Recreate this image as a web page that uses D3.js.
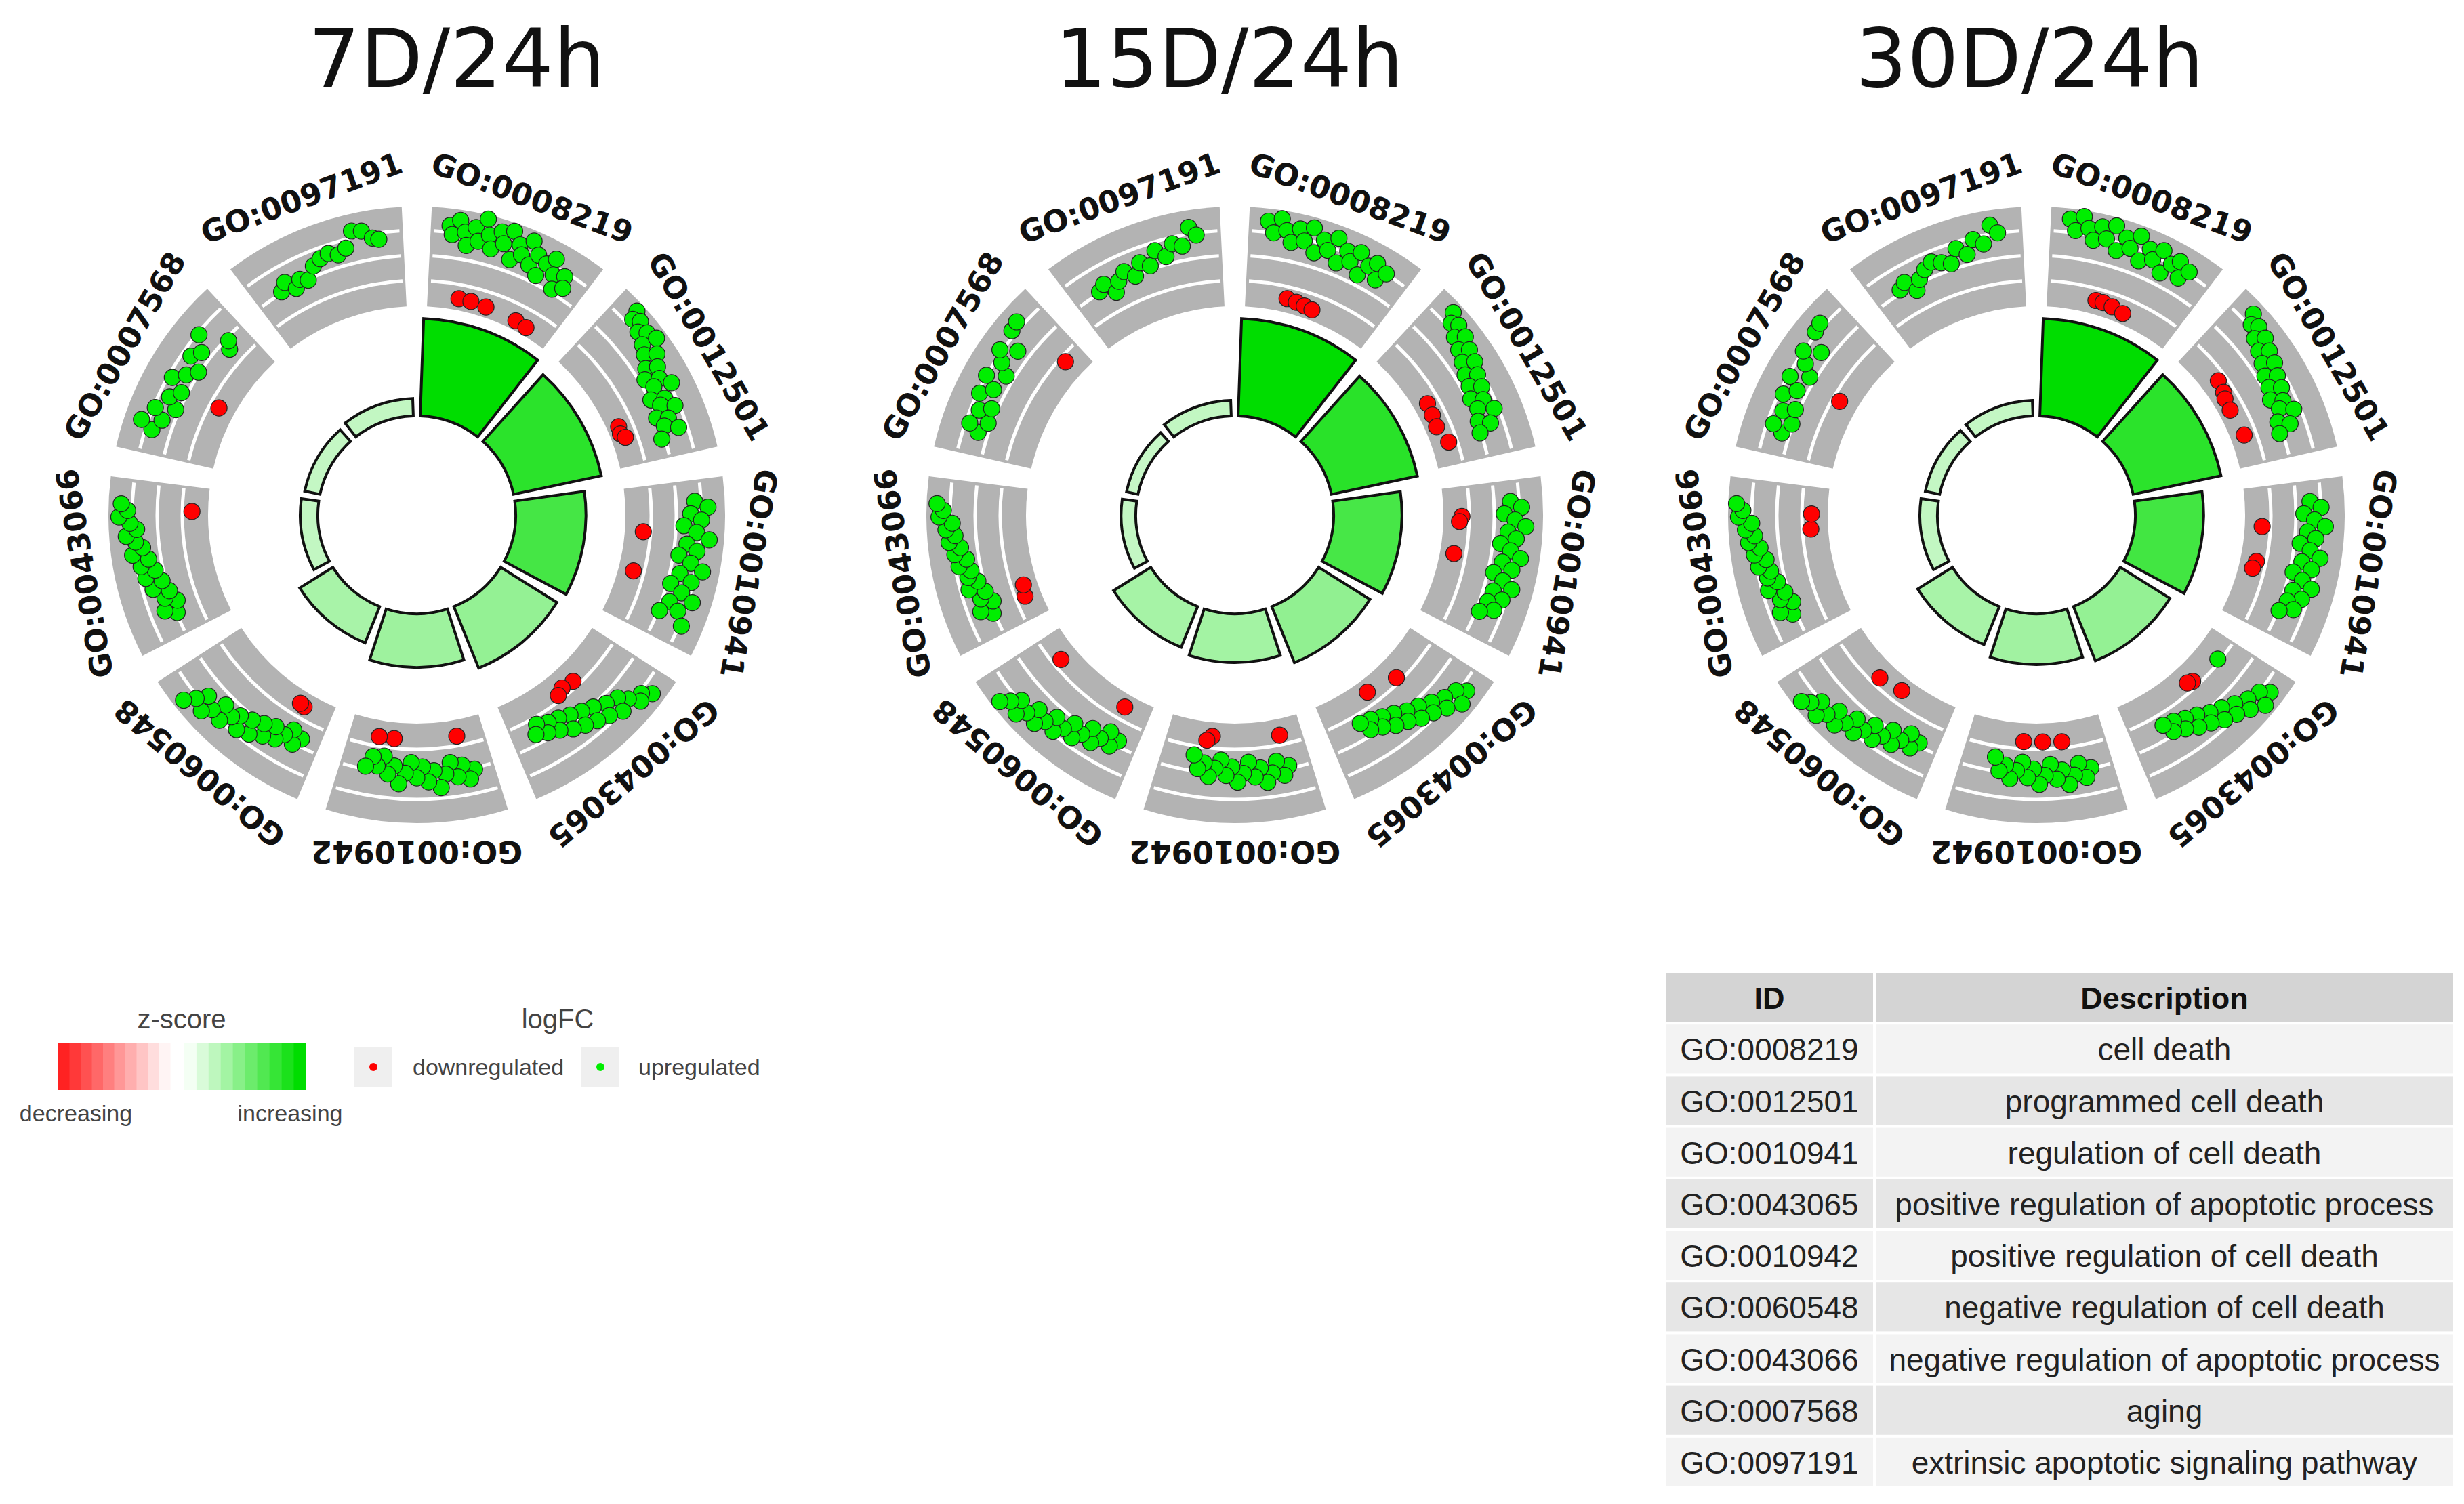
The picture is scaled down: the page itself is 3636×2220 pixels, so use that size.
<!DOCTYPE html>
<html>
<head>
<meta charset="utf-8">
<script src="https://cdn.jsdelivr.net/npm/d3@7"></script>
<style>
  html, body { margin: 0; padding: 0; background: #fff; }
</style>
</head>
<body>
<svg id="chart" width="3636" height="2220"></svg>
<script>
// panels and GO terms
var PANELS = ["7D/24h", "15D/24h", "30D/24h"];
var GO_IDS = ["GO:0008219", "GO:0012501", "GO:0010941", "GO:0043065", "GO:0010942",
              "GO:0060548", "GO:0043066", "GO:0007568", "GO:0097191"];
var DESCRIPTIONS = ["cell death", "programmed cell death", "regulation of cell death",
  "positive regulation of apoptotic process", "positive regulation of cell death",
  "negative regulation of cell death", "negative regulation of apoptotic process",
  "aging", "extrinsic apoptotic signaling pathway"];

// inner bar heights (gene counts) and z-scores, one row per panel
var COUNTS = [
  [100, 92, 72, 68, 55, 40, 18, 16, 18],
  [100, 90, 70, 62, 50, 45, 15, 12, 16],
  [100, 92, 70, 60, 52, 42, 18, 15, 16]
];
var ZSCORES = [
  [10, 8.3, 7.3, 4.2, 3.8, 3.4, 2.4, 2.3, 2.4],
  [10, 8.4, 7.2, 4.3, 3.6, 3.5, 2.3, 2.2, 2.4],
  [10, 8.3, 7.4, 4.2, 3.7, 3.4, 2.4, 2.3, 2.3]
];

// logFC scatter per segment: "position-in-segment,logFC"
var POINTS_7D = [
  "0.08,3.0 0.1,2.6 0.14,3.3 0.18,2.8 0.2,2.2 0.24,3.1 0.27,2.5 0.3,3.6 0.33,2.9 0.36,2.3 0.4,3.2 0.43,2.7 0.47,3.4 0.5,2.1 0.53,2.9 0.56,2.5 0.6,3.3 0.63,2.2 0.66,2.8 0.7,1.9 0.73,2.6 0.77,3.0 0.8,2.3 0.84,1.7 0.87,2.5 0.9,2.0 0.22,-1.0 0.32,-1.0 0.45,-1.1 0.72,-1.2 0.82,-1.3",
  "0.1,3.4 0.12,3.0 0.16,3.2 0.2,2.8 0.24,3.1 0.28,2.6 0.3,3.3 0.34,2.4 0.38,2.9 0.42,2.1 0.45,2.6 0.48,1.8 0.52,2.4 0.55,2.0 0.58,2.8 0.62,1.6 0.65,2.2 0.68,1.9 0.72,2.5 0.75,1.5 0.78,2.0 0.82,1.7 0.86,2.3 0.9,1.4 0.7,-1.0 0.76,-1.1 0.8,-0.8",
  "0.1,2.4 0.14,3.0 0.18,2.2 0.22,2.7 0.26,1.9 0.3,2.5 0.34,3.1 0.38,2.1 0.42,2.6 0.46,1.8 0.5,2.4 0.54,3.0 0.58,2.0 0.62,2.6 0.66,1.7 0.7,2.3 0.74,2.9 0.78,1.9 0.82,2.4 0.86,1.6 0.9,2.8 0.32,-0.4 0.64,-0.7",
  "0.1,3.2 0.14,2.8 0.18,3.0 0.22,2.5 0.26,2.1 0.3,2.7 0.34,1.9 0.38,2.4 0.42,1.6 0.46,2.2 0.5,1.4 0.54,2.0 0.58,1.2 0.62,1.8 0.66,1.0 0.7,1.5 0.74,0.9 0.78,1.3 0.82,0.7 0.86,1.1 0.4,-0.3 0.5,-0.5 0.56,-0.2",
  "0.1,1.6 0.14,2.0 0.18,1.3 0.22,1.8 0.26,1.1 0.3,1.6 0.34,2.2 0.38,1.4 0.42,1.9 0.46,1.2 0.5,1.7 0.54,1.0 0.58,1.5 0.62,2.0 0.66,1.2 0.7,1.6 0.74,0.8 0.78,1.3 0.82,0.9 0.86,1.4 0.18,-0.6 0.68,-0.6 0.8,-0.6",
  "0.1,1.2 0.14,1.6 0.18,1.0 0.22,1.4 0.26,1.8 0.3,1.3 0.34,2.0 0.38,1.5 0.42,2.3 0.46,1.7 0.5,2.5 0.54,1.9 0.58,2.2 0.62,2.7 0.66,2.0 0.7,2.6 0.74,3.0 0.78,2.3 0.82,2.8 0.86,3.3 0.2,-0.8 0.24,-0.9",
  "0.12,1.5 0.16,2.0 0.2,1.3 0.24,1.8 0.28,1.5 0.32,2.2 0.36,1.7 0.4,2.4 0.44,1.9 0.48,2.5 0.52,2.1 0.56,2.8 0.6,2.3 0.64,2.6 0.68,3.0 0.72,2.5 0.76,2.8 0.8,3.3 0.84,2.9 0.88,3.2 0.84,-0.6",
  "0.12,2.4 0.16,3.0 0.2,2.1 0.26,2.6 0.3,1.7 0.36,2.2 0.42,1.8 0.48,2.5 0.54,2.0 0.6,1.6 0.66,2.3 0.72,2.0 0.8,2.6 0.86,1.1 0.9,1.4 0.45,-0.6",
  "0.15,1.6 0.2,1.9 0.25,1.4 0.3,1.7 0.35,1.5 0.42,2.0 0.48,2.2 0.54,2.3 0.6,2.1 0.66,2.3 0.72,3.0 0.78,2.9 0.84,2.5 0.88,2.4"
];
var POINTS_15D = [
  "0.08,3.2 0.12,2.7 0.16,3.4 0.2,2.9 0.24,2.4 0.28,3.1 0.32,2.6 0.36,3.3 0.4,2.2 0.44,2.9 0.48,2.5 0.52,3.2 0.56,2.1 0.6,2.8 0.64,2.4 0.68,3.0 0.72,2.0 0.76,2.6 0.8,2.9 0.84,2.2 0.88,2.7 0.3,-0.8 0.38,-0.9 0.45,-1.0 0.52,-1.1",
  "0.1,3.3 0.14,2.9 0.18,3.1 0.22,2.6 0.26,3.0 0.3,2.4 0.34,2.8 0.38,2.2 0.42,2.7 0.46,2.0 0.5,2.5 0.54,1.9 0.58,2.4 0.62,1.7 0.66,2.2 0.7,1.8 0.74,2.5 0.78,1.6 0.82,2.1 0.86,1.5 0.5,-0.8 0.6,-0.9 0.7,-1.0 0.85,-0.5",
  "0.1,2.3 0.14,2.8 0.18,2.0 0.22,2.5 0.26,3.0 0.3,2.2 0.34,2.6 0.38,1.9 0.42,2.4 0.46,2.9 0.5,2.1 0.54,2.6 0.58,1.8 0.62,2.3 0.66,2.8 0.7,2.0 0.74,2.5 0.78,1.9 0.82,2.3 0.86,1.7 0.2,-0.4 0.24,-0.6 0.5,-0.8",
  "0.1,3.0 0.14,2.6 0.18,3.2 0.22,2.4 0.26,2.8 0.3,2.1 0.34,2.5 0.38,1.8 0.42,2.3 0.46,1.6 0.5,2.0 0.54,1.3 0.58,1.8 0.62,1.1 0.66,1.5 0.7,0.9 0.74,1.3 0.78,0.8 0.35,-0.2 0.6,-0.9",
  "0.12,1.4 0.16,1.8 0.2,1.1 0.24,1.6 0.28,2.0 0.32,1.3 0.36,1.7 0.4,1.0 0.44,1.5 0.48,1.9 0.52,1.2 0.56,1.6 0.6,0.9 0.64,1.3 0.68,1.7 0.72,1.1 0.76,1.4 0.8,0.8 0.14,-0.6 0.68,-0.8 0.72,-0.4",
  "0.1,1.3 0.14,1.7 0.18,1.1 0.22,1.6 0.26,2.0 0.3,1.4 0.34,1.9 0.38,2.3 0.42,1.7 0.46,2.2 0.5,2.6 0.54,2.0 0.58,2.5 0.62,2.9 0.66,2.3 0.7,2.8 0.74,3.2 0.78,2.6 0.82,3.0 0.86,3.4 0.18,-0.9 0.82,-0.5",
  "0.12,1.6 0.16,2.1 0.2,1.4 0.24,1.9 0.28,1.6 0.32,2.3 0.36,1.8 0.4,2.2 0.44,2.0 0.48,2.5 0.52,2.1 0.56,2.6 0.6,2.3 0.64,2.8 0.68,2.5 0.72,2.9 0.76,2.6 0.8,3.2 0.84,3.0 0.88,3.3 0.15,-0.6 0.24,-0.8",
  "0.12,2.0 0.16,2.5 0.2,1.7 0.26,2.3 0.3,1.8 0.36,2.6 0.42,2.1 0.48,2.7 0.54,1.9 0.6,2.4 0.66,2.8 0.72,2.1 0.8,2.9 0.86,3.0 0.88,-0.3",
  "0.15,1.6 0.2,1.8 0.25,1.2 0.3,1.6 0.36,1.9 0.42,1.5 0.48,2.0 0.54,1.7 0.6,2.3 0.66,1.9 0.72,2.4 0.78,2.2 0.84,3.0 0.88,2.6"
];
var POINTS_30D = [
  "0.08,3.3 0.12,2.8 0.16,3.5 0.2,3.0 0.24,2.5 0.28,3.2 0.32,2.7 0.36,3.4 0.4,2.3 0.44,3.0 0.48,2.6 0.52,3.3 0.56,2.2 0.6,2.9 0.64,2.5 0.68,3.1 0.72,2.1 0.76,2.7 0.8,3.0 0.84,2.3 0.88,2.8 0.36,-0.8 0.42,-0.8 0.5,-0.9 0.6,-1.1",
  "0.1,3.2 0.14,2.8 0.18,3.0 0.22,2.5 0.26,2.9 0.3,2.3 0.34,2.7 0.38,2.1 0.42,2.6 0.46,1.9 0.5,2.4 0.54,1.8 0.58,2.3 0.62,1.6 0.66,2.1 0.7,1.8 0.74,2.4 0.78,1.5 0.82,2.0 0.86,1.4 0.3,-0.5 0.4,-0.7 0.45,-0.9 0.55,-1.0 0.78,-0.8",
  "0.1,2.2 0.14,2.7 0.18,1.9 0.22,2.4 0.26,2.9 0.3,2.1 0.34,2.5 0.38,1.8 0.42,2.3 0.46,2.8 0.5,2.0 0.54,2.5 0.58,1.7 0.62,2.2 0.66,2.7 0.7,1.9 0.74,2.4 0.78,1.8 0.82,2.2 0.86,1.6 0.28,-0.5 0.56,-0.6 0.62,-0.8",
  "0.1,3.1 0.14,2.7 0.18,3.3 0.22,2.5 0.26,2.9 0.3,2.2 0.34,2.6 0.38,1.9 0.42,2.4 0.46,1.7 0.5,2.1 0.54,1.4 0.58,1.9 0.62,1.2 0.66,1.6 0.7,1.0 0.74,1.4 0.78,0.9 0.14,0.0 0.4,-0.3 0.44,-0.5",
  "0.12,1.5 0.16,1.9 0.2,1.2 0.24,1.7 0.28,2.1 0.32,1.4 0.36,1.8 0.4,1.1 0.44,1.6 0.48,2.0 0.52,1.3 0.56,1.7 0.6,1.0 0.64,1.4 0.68,1.8 0.72,1.2 0.76,1.5 0.8,0.9 0.3,-0.3 0.45,-0.4 0.6,-0.4",
  "0.1,1.4 0.14,1.8 0.18,1.2 0.22,1.7 0.26,2.1 0.3,1.5 0.34,2.0 0.38,2.4 0.42,1.8 0.46,2.3 0.5,2.7 0.54,2.1 0.58,2.6 0.62,3.0 0.66,2.4 0.7,2.9 0.74,3.3 0.78,2.7 0.82,3.1 0.86,3.4 0.42,-0.9 0.62,-0.5",
  "0.12,1.7 0.16,2.2 0.2,1.5 0.24,2.0 0.28,1.7 0.32,2.4 0.36,1.9 0.4,2.3 0.44,2.1 0.48,2.6 0.52,2.2 0.56,2.7 0.6,2.4 0.64,2.9 0.68,2.6 0.72,3.0 0.76,2.7 0.8,3.3 0.84,3.1 0.88,3.4 0.7,-0.5 0.82,-0.6",
  "0.12,1.9 0.16,2.4 0.2,1.6 0.26,2.2 0.3,1.7 0.36,2.5 0.42,2.0 0.48,2.6 0.54,1.8 0.6,2.3 0.66,2.7 0.72,2.0 0.8,2.8 0.86,2.9 0.5,-0.4",
  "0.15,1.7 0.2,1.9 0.25,1.3 0.3,1.7 0.36,2.0 0.42,2.2 0.48,2.0 0.54,1.8 0.6,2.4 0.66,2.0 0.72,2.6 0.78,2.3 0.84,3.1 0.88,2.7"
];
var POINTS = [POINTS_7D, POINTS_15D, POINTS_30D];

// table / legend text
var TABLE_HEADER = ["ID", "Description"];
var ZSCORE_LABELS = ["decreasing", "increasing"];
var LOGFC_LABELS = ["downregulated", "upregulated"];

var svg = d3.select("#chart");
var CENTERS = [[615, 760], [1822, 760], [3005, 760]];
var TITLE_X = [674, 1814, 2995];

var R_IN = 146, R_GRAY_IN = 308, R_GRAY_OUT = 455, R_LABEL = 482;
var angle = d3.scaleLinear().domain([0, GO_IDS.length]).range([0, 2 * Math.PI]);
var barR = d3.scaleLinear().domain([0, 100]).range([R_IN, 290]);
// piecewise radial scale: down-regulated near inner edge, up-regulated spread over the rest
var fcR = d3.scaleLinear().domain([-1.3, 0, 0.7, 3.5]).range([320, 342, 356, 446]);
var zColor = d3.scaleLinear().domain([0, 10]).range(["#ffffff", "#00dd00"]);
var PAD = 0.07;

function parsePts(s) {
  return s.trim().split(/\s+/).map(function(p) { return p.split(",").map(Number); });
}

PANELS.forEach(function(title, p) {
  svg.append("text")
    .attr("x", TITLE_X[p]).attr("y", 128)
    .attr("text-anchor", "middle")
    .attr("font-family", "DejaVu Sans")
    .attr("font-size", 120)
    .attr("fill", "#111")
    .text(title);

  var g = svg.append("g").attr("transform", "translate(" + CENTERS[p][0] + "," + CENTERS[p][1] + ")");

  GO_IDS.forEach(function(id, i) {
    var a0 = angle(i + PAD), a1 = angle(i + 1 - PAD);
    // gray track with white lines
    g.append("path")
      .attr("d", d3.arc()({ innerRadius: R_GRAY_IN, outerRadius: R_GRAY_OUT, startAngle: a0, endAngle: a1 }))
      .attr("fill", "#b3b3b3");
    [346, 383, 420].forEach(function(r) {
      g.append("path")
        .attr("d", d3.arc()({ innerRadius: r - 2.5, outerRadius: r + 2.5, startAngle: a0 + 0.012, endAngle: a1 - 0.012 }))
        .attr("fill", "#fff");
    });
    // inner bar
    g.append("path")
      .attr("d", d3.arc()({ innerRadius: R_IN, outerRadius: barR(COUNTS[p][i]), startAngle: angle(i + 0.05), endAngle: angle(i + 0.95) }))
      .attr("fill", zColor(ZSCORES[p][i]))
      .attr("stroke", "#111")
      .attr("stroke-width", 4)
      .attr("stroke-linejoin", "miter");
    // scatter
    parsePts(POINTS[p][i]).forEach(function(d) {
      var a = angle(i + 0.1 + d[0] * 0.8), r = fcR(d[1]);
      g.append("circle")
        .attr("cx", r * Math.sin(a)).attr("cy", -r * Math.cos(a))
        .attr("r", 12)
        .attr("fill", d[1] < 0 ? "#ff0000" : "#00ee00")
        .attr("stroke", "#222").attr("stroke-width", 1.2);
    });
    // label
    var mid = angle(i + 0.5) * 180 / Math.PI;
    g.append("text")
      .attr("transform", "rotate(" + mid + ") translate(0," + (-R_LABEL) + ")")
      .attr("text-anchor", "middle")
      .attr("font-family", "DejaVu Sans")
      .attr("font-weight", "bold")
      .attr("font-size", 45)
      .attr("fill", "#111")
      .text(id);
  });
});

// legend: z-score
var lg = svg.append("g").attr("font-family", "Liberation Sans Narrow, Liberation Sans").attr("fill", "#444");
lg.append("text").attr("x", 268).attr("y", 1518).attr("text-anchor", "middle").attr("font-size", 40).attr("fill", "#444").text("z-score");
var redSteps = d3.range(10), greenSteps = d3.range(10);
var redX = d3.scaleBand().domain(redSteps).range([86, 251]);
var greenX = d3.scaleBand().domain(greenSteps).range([272, 451]);
lg.selectAll(".rs").data(redSteps).enter().append("rect")
  .attr("x", function(d) { return redX(d); }).attr("y", 1539)
  .attr("width", redX.bandwidth() + 0.5).attr("height", 70)
  .attr("fill", function(d) { return d3.interpolateRgb("#ff2222", "#fff4f4")(d / 9); });
lg.selectAll(".gs").data(greenSteps).enter().append("rect")
  .attr("x", function(d) { return greenX(d); }).attr("y", 1539)
  .attr("width", greenX.bandwidth() + 0.5).attr("height", 70)
  .attr("fill", function(d) { return d3.interpolateRgb("#f4fff4", "#00dd00")(d / 9); });
lg.append("text").attr("x", 112).attr("y", 1655).attr("text-anchor", "middle").attr("font-size", 34).text(ZSCORE_LABELS[0]);
lg.append("text").attr("x", 428).attr("y", 1655).attr("text-anchor", "middle").attr("font-size", 34).text(ZSCORE_LABELS[1]);

// legend: logFC
lg.append("text").attr("x", 823).attr("y", 1518).attr("text-anchor", "middle").attr("font-size", 40).text("logFC");
var keyX = [523, 858], keyTextX = [609, 942], keyCol = ["#ff0000", "#00ee00"];
LOGFC_LABELS.forEach(function(lab, k) {
  lg.append("rect").attr("x", keyX[k]).attr("y", 1546).attr("width", 56).attr("height", 58).attr("fill", "#efefef");
  lg.append("circle").attr("cx", keyX[k] + 28).attr("cy", 1575).attr("r", 6).attr("fill", keyCol[k]);
  lg.append("text").attr("x", keyTextX[k]).attr("y", 1587).attr("font-size", 34).text(lab);
});

// table
var tb = svg.append("g").attr("font-family", "Liberation Sans");
var colX = [2458, 2768], colW = [306, 852];
var rowY = d3.scaleBand().domain(d3.range(GO_IDS.length + 1)).range([1436, 2198]);
var rowH = rowY.bandwidth();
TABLE_HEADER.forEach(function(h, c) {
  tb.append("rect").attr("x", colX[c]).attr("y", rowY(0)).attr("width", colW[c]).attr("height", rowH - 4).attr("fill", "#d4d4d4");
  tb.append("text").attr("x", colX[c] + colW[c] / 2).attr("y", rowY(0) + rowH / 2 + 15)
    .attr("text-anchor", "middle").attr("font-size", 45).attr("font-weight", "bold").attr("fill", "#111").text(h);
});
GO_IDS.forEach(function(id, i) {
  var y = rowY(i + 1), fill = i % 2 === 0 ? "#f3f3f3" : "#e6e6e6";
  [id, DESCRIPTIONS[i]].forEach(function(t, c) {
    tb.append("rect").attr("x", colX[c]).attr("y", y).attr("width", colW[c]).attr("height", rowH - 4).attr("fill", fill);
    tb.append("text").attr("x", colX[c] + colW[c] / 2).attr("y", y + rowH / 2 + 15)
      .attr("text-anchor", "middle").attr("font-size", 46).attr("fill", "#222").text(t);
  });
});
</script>
</body>
</html>
